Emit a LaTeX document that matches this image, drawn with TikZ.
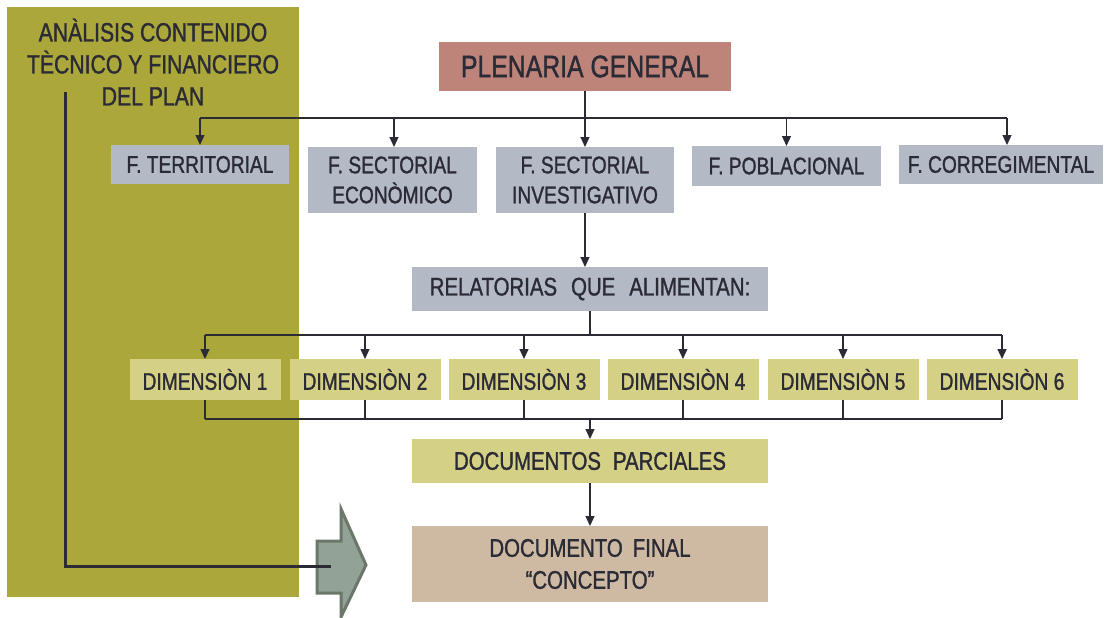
\documentclass[tikz,border=0pt]{standalone}
\usepackage{fontspec}
\setmainfont[FakeStretch=0.8,FakeBold=1.2]{Liberation Sans}
\usetikzlibrary{arrows.meta}
\definecolor{cOlive}{HTML}{ABA73B}
\definecolor{cGray}{HTML}{B3BAC5}
\definecolor{cDim}{HTML}{D4D186}
\definecolor{cPlen}{HTML}{BE847A}
\definecolor{cFinal}{HTML}{CEBAA3}
\definecolor{cArrFill}{HTML}{93A297}
\definecolor{cArrDraw}{HTML}{6B7769}
\definecolor{cText}{HTML}{2B2B36}
\tikzset{
  box/.style={rectangle, inner sep=0pt, outer sep=0pt, text=cText, align=center,
    font=\fontsize{24}{30}\selectfont},
  graybox/.style={box, fill=cGray},
  dimbox/.style={box, fill=cDim, minimum width=151pt, minimum height=41pt},
  conn/.style={draw=cText, line width=1.3pt},
  arr/.style={conn, -{Triangle[width=9pt,length=10pt]}},
}
\begin{document}
\begin{tikzpicture}[x=1pt,y=-1pt]
\useasboundingbox (0,0) rectangle (1104,618);
% olive panel
\fill[cOlive] (7,7) rectangle (299,597);
\node[box, font=\fontsize{26.5}{32}\selectfont] (title) at (153,62)
  {ANÀLISIS CONTENIDO\\TÈCNICO Y FINANCIERO\\DEL PLAN};
% block arrow
\draw[cArrDraw, fill=cArrFill, line width=3pt, line join=miter]
  (317,541) -- (341,541) -- (341,509) -- (366,565) -- (341,617) -- (341,593) -- (317,593) -- cycle;
\coordinate (arrin) at (331,566);
\coordinate (tstart) at (65,92);
\draw[cText, line width=3pt] (tstart) -- (tstart |- arrin) -- (arrin);

% top level
\node[box, fill=cPlen, minimum width=292pt, minimum height=49pt, font=\fontsize{31}{36}\selectfont] (plen) at (585,66.5) {PLENARIA GENERAL};
\node[graybox, minimum width=178pt, minimum height=39pt] (fter) at (200,164.5) {F. TERRITORIAL};
\node[graybox, minimum width=169pt, minimum height=66pt] (fsec) at (392.5,180) {F. SECTORIAL\\ECONÒMICO};
\node[graybox, minimum width=178pt, minimum height=66pt] (finv) at (585,180) {F. SECTORIAL\\INVESTIGATIVO};
\node[graybox, minimum width=189pt, minimum height=40pt] (fpob) at (786.5,166) {F. POBLACIONAL};
\node[graybox, minimum width=204pt, minimum height=39pt] (fcor) at (1001,164.5) {F. CORREGIMENTAL};

\coordinate (busT) at (585,118);
\coordinate (corIn) at ([xshift=6pt]fcor.north);
\draw[conn] (plen.south) -- (busT);
\draw[conn] (fter.north |- busT) -- (corIn |- busT);
\draw[arr] (fter.north |- busT) -- (fter.north);
\draw[arr] ([xshift=1.5pt]fsec.north |- busT) -- ([xshift=1.5pt]fsec.north);
\draw[arr] (busT) -- (finv.north);
\draw[arr] (fpob.north |- busT) -- (fpob.north);
\draw[arr] (corIn |- busT) -- (corIn);

% relatorias
\node[graybox, minimum width=356pt, minimum height=44pt, font=\fontsize{25.5}{30}\selectfont] (rel) at (590,289) {RELATORIAS\hspace{14pt}QUE\hspace{14pt}ALIMENTAN:};
\draw[arr] (finv.south) -- (finv.south |- rel.north);

% dimensions
\node[dimbox] (d1) at (205,379.5) {DIMENSIÒN 1};
\node[dimbox] (d2) at (365,379.5) {DIMENSIÒN 2};
\node[dimbox] (d3) at (524,379.5) {DIMENSIÒN 3};
\node[dimbox] (d4) at (683,379.5) {DIMENSIÒN 4};
\node[dimbox] (d5) at (843,379.5) {DIMENSIÒN 5};
\node[dimbox] (d6) at (1002,379.5) {DIMENSIÒN 6};

\coordinate (busM) at (590,335);
\draw[conn] (rel.south) -- (busM);
\draw[conn] (d1.north |- busM) -- (d6.north |- busM);
\foreach \d in {d1,d2,d3,d4,d5,d6}{
  \draw[arr] (\d.north |- busM) -- (\d.north);
}

% documentos parciales
\node[box, fill=cDim, minimum width=356pt, minimum height=44pt, font=\fontsize{25.5}{30}\selectfont] (docs) at (590,461) {DOCUMENTOS\hspace{12pt}PARCIALES};
\coordinate (busB) at (590,419);
\foreach \d in {d1,d2,d3,d4,d5,d6}{
  \draw[conn] (\d.south) -- (\d.south |- busB);
}
\draw[conn] (d1.south |- busB) -- (d6.south |- busB);
\draw[arr] (busB) -- (docs.north);

% documento final
\node[box, fill=cFinal, minimum width=356pt, minimum height=76pt, font=\fontsize{25.5}{32}\selectfont] (final) at (590,564) {DOCUMENTO\hspace{10pt}FINAL\\“CONCEPTO”};
\draw[arr] (docs.south) -- (final.north);
\end{tikzpicture}
\end{document}
